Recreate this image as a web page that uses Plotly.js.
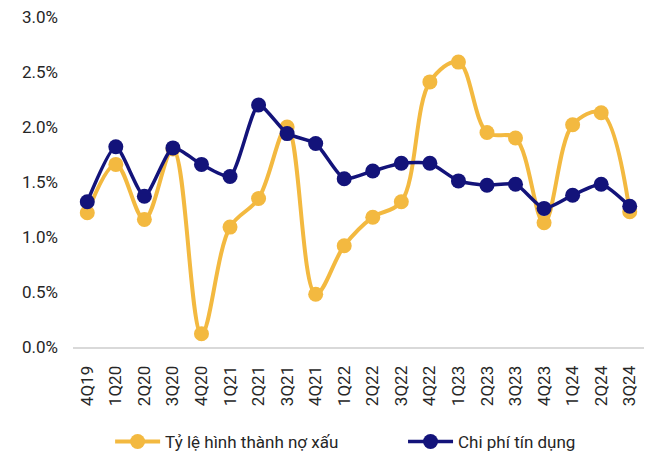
<!DOCTYPE html>
<html>
<head>
<meta charset="utf-8">
<script src="https://cdn.plot.ly/plotly-3.0.1.min.js"></script>
<style>html,body{margin:0;padding:0;background:#fff;}#chart{width:656px;height:460px;}</style>
</head>
<body>
<div id="chart"></div>
<script>
const categories = ["4Q19","1Q20","2Q20","3Q20","4Q20","1Q21","2Q21","3Q21","4Q21","1Q22","2Q22","3Q22","4Q22","1Q23","2Q23","3Q23","4Q23","1Q24","2Q24","3Q24"];
const nplFormation = [1.22,1.66,1.16,1.80,0.12,1.09,1.35,2.00,0.48,0.92,1.18,1.32,2.41,2.59,1.95,1.90,1.13,2.02,2.13,1.23];
const creditCost = [1.32,1.82,1.37,1.81,1.66,1.55,2.20,1.94,1.85,1.53,1.60,1.67,1.67,1.51,1.47,1.48,1.26,1.38,1.48,1.28];
const yTicks = [0,0.5,1.0,1.5,2.0,2.5,3.0];
const yTickLabels = ["0.0%","0.5%","1.0%","1.5%","2.0%","2.5%","3.0%"];
const seriesNames = ["Tỷ lệ hình thành nợ xấu","Chi phí tín dụng"];

const orange = "#F3B940";
const navy = "#13137A";
const textColor = "#262626";
const fontFamily = "Roboto, sans-serif";

const traces = [
  {
    x: categories, y: nplFormation, name: seriesNames[0], type: "scatter", mode: "lines+markers",
    line: {color: orange, width: 4, shape: "spline", smoothing: 1},
    marker: {color: orange, size: 15}, legend: "legend", cliponaxis: false
  },
  {
    x: categories, y: creditCost, name: seriesNames[1], type: "scatter", mode: "lines+markers",
    line: {color: navy, width: 3.5, shape: "spline", smoothing: 0.6},
    marker: {color: navy, size: 15}, legend: "legend2", cliponaxis: false
  }
];

const legendBase = {orientation: "h", xanchor: "left", y: -0.233, yanchor: "top",
  font: {family: fontFamily, size: 17, color: textColor}, itemwidth: 45, bgcolor: "rgba(0,0,0,0)"};

const layout = {
  width: 656, height: 460,
  margin: {l: 73, r: 12, t: 17, b: 113, autoexpand: false},
  paper_bgcolor: "#fff", plot_bgcolor: "#fff",
  font: {family: fontFamily, size: 17, color: textColor},
  showlegend: true,
  legend: Object.assign({}, legendBase, {x: 0.065}),
  legend2: Object.assign({}, legendBase, {x: 0.578}),
  xaxis: {
    type: "category", range: [-0.5, categories.length - 0.5], tickangle: -90,
    showgrid: false, zeroline: false, automargin: false,
    showline: true, linecolor: "#D9D9D9", linewidth: 2, ticks: "", ticklabelstandoff: 10,
    tickfont: {family: fontFamily, size: 17, color: textColor}
  },
  yaxis: {
    range: [0, 3.0], tickvals: yTicks, ticktext: yTickLabels, showgrid: false, zeroline: false,
    showline: false, ticks: "", automargin: false, ticklabelstandoff: 14,
    tickfont: {family: fontFamily, size: 17, color: textColor}
  }
};

Plotly.newPlot("chart", traces, layout, {displayModeBar: false, staticPlot: true});
</script>
</body>
</html>
